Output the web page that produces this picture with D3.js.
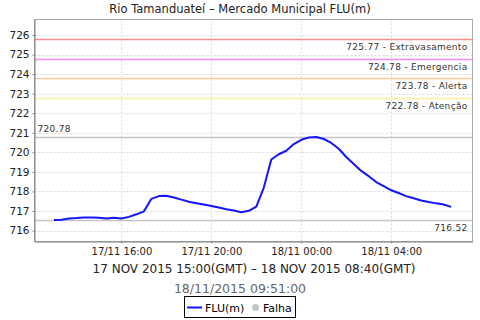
<!DOCTYPE html>
<html>
<head>
<meta charset="utf-8">
<script src="https://cdn.jsdelivr.net/npm/d3@7"></script>
<style>
  body { margin: 0; background: #fff; }
  svg { display: block; font-family: "DejaVu Sans", sans-serif; }
</style>
</head>
<body>
<svg id="chart" width="480" height="320"></svg>
<script>
'use strict';

// Level readings (local time), 20 min apart
var times = [
  '17/11 13:00','17/11 13:20','17/11 13:40','17/11 14:00','17/11 14:20','17/11 14:40',
  '17/11 15:00','17/11 15:20','17/11 15:40','17/11 16:00','17/11 16:20','17/11 16:40',
  '17/11 17:00','17/11 17:20','17/11 17:40','17/11 18:00','17/11 18:20','17/11 18:40',
  '17/11 19:00','17/11 19:20','17/11 19:40','17/11 20:00','17/11 20:20','17/11 20:40',
  '17/11 21:00','17/11 21:20','17/11 21:40','17/11 22:00','17/11 22:20','17/11 22:40',
  '17/11 23:00','17/11 23:20','17/11 23:40','18/11 00:00','18/11 00:20','18/11 00:40',
  '18/11 01:00','18/11 01:20','18/11 01:40','18/11 02:00','18/11 02:20','18/11 02:40',
  '18/11 03:00','18/11 03:20','18/11 03:40','18/11 04:00','18/11 04:20','18/11 04:40',
  '18/11 05:00','18/11 05:20','18/11 05:40','18/11 06:00','18/11 06:20','18/11 06:40'
];
var levels = [
  716.54, 716.55, 716.62, 716.64, 716.67, 716.67,
  716.66, 716.62, 716.65, 716.62, 716.70, 716.83,
  716.98, 717.62, 717.76, 717.78, 717.69, 717.58,
  717.47, 717.40, 717.33, 717.26, 717.18, 717.09,
  717.02, 716.94, 717.01, 717.22, 718.20, 719.63,
  719.90, 720.08, 720.42, 720.64, 720.76, 720.78,
  720.68, 720.48, 720.18, 719.76, 719.40, 719.05,
  718.78, 718.48, 718.27, 718.06, 717.92, 717.76,
  717.65, 717.54, 717.46, 717.39, 717.33, 717.21
];

var yTicks = [716, 717, 718, 719, 720, 721, 722, 723, 724, 725, 726];
var xTicks = ['17/11 16:00', '17/11 20:00', '18/11 00:00', '18/11 04:00'];

var thresholdValues = [725.77, 724.78, 723.78, 722.78];
var thresholdNames  = ['Extravasamento', 'Emergencia', 'Alerta', 'Atenção'];
var thresholdColors = ['#ff8a8a', '#ff88ff', '#ffc896', '#fff0a0'];

var maxLevel = 720.78;
var minLevel = 716.52;

var title    = 'Rio Tamanduateí – Mercado Municipal FLU(m)';
var subtitle = '17 NOV 2015 15:00(GMT) – 18 NOV 2015 08:40(GMT)';
var stamp    = '18/11/2015 09:51:00';

var parse = function(s) { return d3.timeParse('%Y %d/%m %H:%M')('2015 ' + s); };

var svg = d3.select('#chart');
var plotL = 34.5, plotR = 472.5, plotT = 19.5, plotB = 241.5;

var x = d3.scaleTime()
  .domain([parse('17/11 12:08'), parse('18/11 07:37')])
  .range([plotL, plotR]);
var y = d3.scaleLinear()
  .domain([715.44, 726.79])
  .range([plotB, plotT]);

// grid
svg.append('g').selectAll('line').data(yTicks).enter().append('line')
  .attr('x1', plotL).attr('x2', plotR)
  .attr('y1', function(d) { return Math.round(y(d)) + 0.5; })
  .attr('y2', function(d) { return Math.round(y(d)) + 0.5; })
  .style('stroke', '#d8d8d8').style('stroke-dasharray', '2,2');
svg.append('g').selectAll('line').data(xTicks).enter().append('line')
  .attr('x1', function(d) { return Math.round(x(parse(d))) + 0.5; })
  .attr('x2', function(d) { return Math.round(x(parse(d))) + 0.5; })
  .attr('y1', plotT).attr('y2', plotB)
  .style('stroke', '#d8d8d8').style('stroke-dasharray', '2,2');

// threshold lines
var th = svg.append('g').selectAll('g').data(thresholdValues).enter().append('g');
th.append('line')
  .attr('x1', plotL).attr('x2', plotR)
  .attr('y1', function(d) { return Math.round(y(d)) + 0.5; })
  .attr('y2', function(d) { return Math.round(y(d)) + 0.5; })
  .style('stroke', function(d, i) { return thresholdColors[i]; })
  .style('stroke-width', 1.4);
th.append('text')
  .attr('x', plotR - 5)
  .attr('y', function(d) { return Math.round(y(d)) + 11; })
  .attr('text-anchor', 'end')
  .style('font-size', '9px').style('fill', '#333').style('letter-spacing', '0.3px')
  .text(function(d, i) { return d.toFixed(2) + ' - ' + thresholdNames[i]; });

// max / min markers
svg.append('line')
  .attr('x1', plotL).attr('x2', plotR)
  .attr('y1', Math.round(y(maxLevel)) + 0.5).attr('y2', Math.round(y(maxLevel)) + 0.5)
  .style('stroke', '#c4c4c4').style('stroke-width', 1.4);
svg.append('text')
  .attr('x', plotL + 3).attr('y', Math.round(y(maxLevel)) - 5)
  .style('font-size', '9px').style('fill', '#333').style('letter-spacing', '0.3px')
  .text(maxLevel.toFixed(2));
svg.append('line')
  .attr('x1', plotL).attr('x2', plotR)
  .attr('y1', Math.round(y(minLevel)) + 0.5).attr('y2', Math.round(y(minLevel)) + 0.5)
  .style('stroke', '#c4c4c4').style('stroke-width', 1.4);
svg.append('text')
  .attr('x', plotR - 5).attr('y', Math.round(y(minLevel)) + 11)
  .attr('text-anchor', 'end')
  .style('font-size', '9px').style('fill', '#333').style('letter-spacing', '0.3px')
  .text(minLevel.toFixed(2));

// series
var line = d3.line()
  .x(function(d, i) { return x(parse(times[i])); })
  .y(function(d) { return y(d); });
svg.append('path')
  .datum(levels)
  .attr('d', line)
  .style('fill', 'none').style('stroke', '#1414ff').style('stroke-width', 2)
  .style('stroke-linejoin', 'round');

// frame
svg.append('rect')
  .attr('x', plotL).attr('y', plotT)
  .attr('width', plotR - plotL).attr('height', plotB - plotT)
  .style('fill', 'none').style('stroke', '#a8a8a8');

// axes
var yAxis = d3.axisLeft(y).tickValues(yTicks).tickFormat(d3.format('d'))
  .tickSizeInner(2).tickSizeOuter(0).tickPadding(3);
var gy = svg.append('g').attr('transform', 'translate(' + plotL + ',0)').call(yAxis);
var xAxis = d3.axisBottom(x).tickValues(xTicks.map(parse))
  .tickFormat(d3.timeFormat('%d/%m %H:%M'))
  .tickSizeInner(2).tickSizeOuter(0).tickPadding(4);
var gx = svg.append('g').attr('transform', 'translate(0,' + plotB + ')').call(xAxis);
[gx, gy].forEach(function(g) {
  g.select('.domain').style('stroke', '#808080');
  g.selectAll('.tick line').style('stroke', '#808080');
  g.selectAll('text').style('font-family', '"DejaVu Sans", sans-serif')
    .style('font-size', '10px').style('fill', '#222');
});
gy.selectAll('text').style('font-size', '10.5px');

// titles
svg.append('text').attr('x', 240).attr('y', 13).attr('text-anchor', 'middle')
  .style('font-size', '11.5px').style('fill', '#222').text(title);
svg.append('text').attr('x', 254).attr('y', 273).attr('text-anchor', 'middle')
  .style('font-size', '12px').style('fill', '#222').text(subtitle);
svg.append('text').attr('x', 240).attr('y', 293).attr('text-anchor', 'middle')
  .style('font-size', '12.5px').style('fill', '#666').text(stamp);

// legend
var lg = svg.append('g');
lg.append('rect').attr('x', 184.5).attr('y', 296.5).attr('width', 111).attr('height', 21)
  .style('fill', '#fff').style('stroke', '#000');
lg.append('line').attr('x1', 187).attr('x2', 202).attr('y1', 307.5).attr('y2', 307.5)
  .style('stroke', '#1414ff').style('stroke-width', 2);
lg.append('text').attr('x', 205).attr('y', 311.5).style('font-size', '11px').style('fill', '#000')
  .text('FLU(m)');
lg.append('circle').attr('cx', 255.5).attr('cy', 307.5).attr('r', 3.5).style('fill', '#c4c4c4');
lg.append('text').attr('x', 263).attr('y', 311.5).style('font-size', '11px').style('fill', '#000')
  .text('Falha');
</script>
</body>
</html>
